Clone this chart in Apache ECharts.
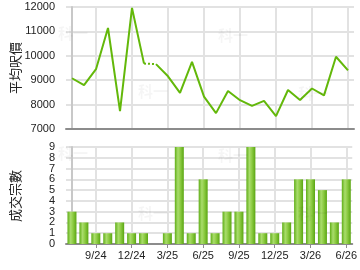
<!DOCTYPE html>
<html><head><meta charset="utf-8">
<script src="https://cdn.jsdelivr.net/npm/echarts@6/dist/echarts.min.js"></script>
<style>html,body{margin:0;padding:0;background:#fff}#c{width:360px;height:270px}</style>
</head><body><div id="c"></div>
<script>
const months = ['7/24','8/24','9/24','10/24','11/24','12/24','1/25','2/25','3/25','4/25','5/25','6/25','7/25','8/25','9/25','10/25','11/25','12/25','1/26','2/26','3/26','4/26','5/26','6/26'];
const tickIdx = [2,5,8,11,14,17,20,23];
const prices = [9080,8800,9450,11140,7730,11960,9680,9660,9160,8480,9750,8330,7650,8560,8180,7950,8150,7530,8600,8190,8660,8380,9960,9400];
const dottedFrom = 6, dottedTo = 7;
const counts = [3,2,1,1,2,1,1,0,1,9,1,6,1,3,3,9,1,1,2,6,6,5,2,6];
const priceTicks = [7000,8000,9000,10000,11000,12000];
const countTicks = [0,1,2,3,4,5,6,7,8,9];

const solidA = prices.map((v,i)=> i<=dottedFrom ? [i,v] : [i,null]);
const solidB = prices.map((v,i)=> i>=dottedTo ? [i,v] : [i,null]);
const dotted = prices.map((v,i)=> (i>=dottedFrom && i<=dottedTo) ? [i,v] : [i,null]);

const lineColor = '#63b80a';
const gridColor = '#e2e2e2';
const txt = '#222';
const ff = 'Liberation Sans, Arial, sans-serif';

const chart = echarts.init(document.getElementById('c'), null, {renderer:'canvas'});
const xCommon = (showLabel) => ({
  type:'value', min:-0.5, max:23.5,
  axisLine:{show:true, onZero:false, lineStyle:{color:'#8c8c8c', width:2}},
  axisTick:{show:showLabel, customValues:tickIdx, length:4, lineStyle:{color:'#8c8c8c'}},
  axisLabel:{show:showLabel, customValues:tickIdx, formatter:(v)=>months[Math.round(v)], color:txt, fontSize:11, fontFamily:ff, margin:6},
  splitLine:{show:true, lineStyle:{color:gridColor, width:2}}
});
const wm = (x,y)=>({type:'text', left:x, top:y, z:100, style:{text:'科一', fill:'rgba(0,0,0,0.04)', font:'bold 15px "Noto Sans CJK SC"'}});
const yLabel = {color:txt, fontSize:11, fontFamily:ff, margin:11, showMinLabel:true, showMaxLabel:true, hideOverlap:false, formatter:(v)=>String(v)};
const cMin = countTicks[0], cMax = countTicks[countTicks.length-1];
chart.setOption({
  animation:false,
  grid:[
    {left:66, right:6, top:7, height:122},
    {left:66, right:6, top:147, height:97}
  ],
  xAxis:[ Object.assign(xCommon(false), {gridIndex:0}), Object.assign(xCommon(true), {gridIndex:1}) ],
  yAxis:[
    {gridIndex:0, type:'value', min:priceTicks[0], max:priceTicks[priceTicks.length-1], interval:1000,
     axisLine:{show:true, lineStyle:{color:'#c8c8c8', width:2}}, axisTick:{show:false},
     axisLabel:yLabel,
     splitLine:{lineStyle:{color:gridColor, width:2}}},
    {gridIndex:1, type:'value', min:cMin, max:cMax, interval:1,
     axisLine:{show:true, lineStyle:{color:'#c8c8c8', width:2}}, axisTick:{show:false},
     axisLabel:Object.assign({}, yLabel, {customValues:countTicks.filter(v=>v%2===0)}),
     splitLine:{lineStyle:{color:gridColor, width:2}}},
    {gridIndex:1, type:'value', min:cMin, max:cMax, interval:1, position:'left', offset:0,
     axisLine:{show:false}, axisTick:{show:false},
     axisLabel:Object.assign({}, yLabel, {customValues:countTicks.filter(v=>v%2===1)}),
     splitLine:{show:false}}
  ],
  graphic:[
    {type:'text', x:15, y:68, rotation:Math.PI/2, style:{text:'平均呎價', fill:txt, font:'13px "Noto Sans CJK TC"', align:'center', verticalAlign:'middle'}},
    {type:'text', x:15, y:196, rotation:Math.PI/2, style:{text:'成交宗數', fill:txt, font:'13px "Noto Sans CJK TC"', align:'center', verticalAlign:'middle'}},
    wm(58,26), wm(138,84), wm(218,28), wm(298,86),
    wm(58,146), wm(138,206), wm(218,148), wm(298,206)
  ],
  series:[
    {type:'line', xAxisIndex:0, yAxisIndex:0, data:solidA, symbol:'none', lineStyle:{color:lineColor, width:2}, connectNulls:false},
    {type:'line', xAxisIndex:0, yAxisIndex:0, data:solidB, symbol:'none', lineStyle:{color:lineColor, width:2}, connectNulls:false},
    {type:'line', xAxisIndex:0, yAxisIndex:0, data:dotted, symbol:'none', lineStyle:{color:lineColor, width:2, type:[2,2]}, connectNulls:false},
    {type:'bar', xAxisIndex:1, yAxisIndex:1, data:counts.map((v,i)=>[i,v]), barWidth:9,
     itemStyle:{color:new echarts.graphic.LinearGradient(0,0,1,0,[
       {offset:0,color:'#5fae16'},{offset:0.35,color:'#a9dc6c'},{offset:0.6,color:'#8fcd45'},{offset:1,color:'#5aa612'}])}}
  ]
});
</script></body></html>
